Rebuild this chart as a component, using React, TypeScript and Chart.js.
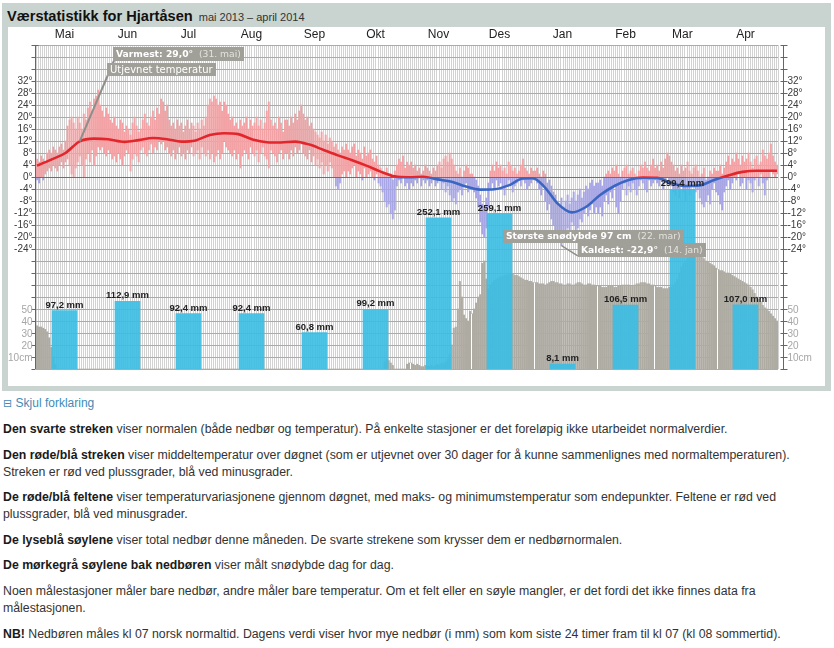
import React, { useEffect, useRef } from "react";
import { Chart, registerables } from "chart.js";
Chart.register(...registerables);

// ---------- data ----------
const monthNames = ["Mai", "Jun", "Jul", "Aug", "Sep", "Okt", "Nov", "Des", "Jan", "Feb", "Mar", "Apr"];
const monthShort = ["mai", "jun", "jul", "aug", "sep", "okt", "nov", "des", "jan", "feb", "mar", "apr"];
const monthStartDay = [0, 31, 61, 92, 123, 153, 184, 214, 245, 276, 304, 335];
const precipMm = [97.2, 112.9, 92.4, 92.4, 60.8, 99.2, 252.1, 259.1, 8.1, 106.5, 299.4, 107.0];
const tempTickLabels = [32, 28, 24, 20, 16, 12, 8, 4, 0, -4, -8, -12, -16, -20, -24];
const snowTickLabels = [50, 40, 30, 20, 10];

const tempMax = [
  // Mai
  6, 5, 7, 6, 5, 8, 9, 8, 10, 9, 8, 10, 11, 9, 12, 17, 19, 20, 18, 16, 20, 18, 16, 21, 19, 23, 25, 22, 26, 27, 29,
  // Jun
  24, 22, 20, 23, 21, 19, 18, 20, 17, 16, 19, 18, 15, 17, 16, 14, 18, 20, 17, 15, 16, 19, 21, 18, 17, 20, 22, 19, 23, 21,
  // Jul
  26, 25, 22, 24, 19, 17, 18, 16, 19, 17, 18, 15, 17, 19, 16, 18, 17, 15, 18, 16, 19, 17, 20, 24, 26, 25, 27, 26, 24, 25, 22,
  // Aug
  25, 24, 21, 19, 20, 17, 18, 16, 19, 17, 18, 20, 16, 19, 17, 18, 20, 17, 19, 16, 18, 22, 25, 19, 17, 18, 16, 20, 18, 15, 19,
  // Sep
  19, 17, 20, 18, 21, 19, 22, 24, 21, 19, 20, 17, 18, 16, 15, 14, 13, 15, 12, 14, 11, 13, 12, 10, 11, 9, 8, 10, 9, 11,
  // Okt
  9, 8, 10, 11, 7, 9, 8, 6, 10, 7, 8, 9, 6, 5, 7, 4, 3, 2, 1, 3, 0, 1, -1, 2, 4, 6, 5, 7, 3, 5, 4,
  // Nov
  5, 3, 4, 2, 3, 1, 2, 4, 3, 2, 1, 3, 2, 4, 5, 3, 6, 7, 5, 8, 6, 4, 2, 1, 3, 0, 2, 4, 3, 1,
  // Des
  1, 0, -1, -3, -6, -9, -11, -7, -2, 2, 4, 2, 5, 3, 4, 2, 3, 1, 5, 4, 2, 3, 1, 2, 4, 6, 3, 2, 1, 3, 2,
  // Jan
  2, 3, 1, 0, 2, 1, -2, -1, -3, -5, -6, -8, -9, -7, -10, -8, -6, -9, -7, -5, -8, -6, -4, -7, -5, -3, -4, -2, -1, -3, -2,
  // Feb
  -2, -1, -3, 0, 1, 2, 1, 3, 2, 4, 1, 0, 2, 3, 4, 1, 2, 3, 1, 0, 2, 4, 3, 5, 3, 2, 4, 6,
  // Mar
  3, 4, 2, 5, 3, 6, 8, 7, 5, 4, 2, 3, 1, 4, 2, 3, 5, 2, 1, 3, 4, 2, 0, 1, 3, -1, 0, 2, 1, 3, 2,
  // Apr
  2, 4, 1, 3, 5, 7, 4, 6, 5, 8, 6, 4, 7, 5, 6, 8, 5, 3, 6, 7, 4, 5, 9, 7, 6, 8, 11, 7, 5, 4,
];

const tempMin = [
  // Mai
  -1, -2, 0, -1, 1, 2, 3, 2, 4, 3, 2, 4, 5, 3, 5, 6, 4, 1, 0, 3, 5, 7, 4, 0, 6, 8, 5, 9, 4, 7, 10,
  // Jun
  9, 10, 8, 7, 9, 8, 6, 7, 5, 8, 6, 4, 7, 9, 8, 2, 6, 8, 7, 5, 9, 10, 8, 7, 9, 11, 8, 10, 9, 12,
  // Jul
  11, 12, 9, 10, 8, 7, 9, 6, 8, 10, 7, 8, 6, 9, 8, 10, 7, 8, 9, 6, 10, 8, 7, 9, 6, 8, 5, 7, 9, 6, 8,
  // Aug
  12, 10, 9, 8, 7, 9, 6, 8, 3, 7, 9, 8, 6, 10, 8, 7, 9, 5, 8, 10, 7, 6, 3, 9, 8, 7, 5, 8, 9, 6, 8,
  // Sep
  8, 6, 9, 7, 10, 8, 9, 11, 8, 7, 6, 9, 5, 7, 4, 6, 3, 5, 1, 4, 2, 5, 3, 0, -3, -4, -2, 1, 2, 0,
  // Okt
  2, 1, 3, 4, 0, 2, 1, -1, 3, 0, 1, 2, 0, -1, 1, -2, -3, -5, -8, -10, -9, -12, -14, -11, -3, -1, -2, 0, -3, -2, -4,
  // Nov
  -2, -3, -1, -2, 0, -3, -1, -2, -1, -3, -2, -1, -3, -2, -1, -4, -2, -5, -3, -6, -8, -7, -9, -5, -4, -6, -3, -2, -5, -4,
  // Des
  -4, -5, -7, -10, -15, -19, -20, -17, -10, -4, -2, -4, -1, -3, -2, -4, -6, -3, -1, -2, -5, -3, -2, -1, -3, -1, -2, -4, -3, -2, -1,
  // Jan
  -1, -2, -4, -6, -3, -8, -11, -9, -14, -16, -18, -20, -19, -22.9, -21, -18, -17, -20, -15, -16, -19, -17, -14, -15, -12, -10, -13, -11, -9, -12, -10,
  // Feb
  -12, -10, -13, -8, -6, -9, -5, -7, -3, -10, -12, -8, -4, -2, -6, -3, -5, -2, -4, -6, -3, -1, -2, -4, -5, -1, -3, -2,
  // Mar
  -1, -2, -3, -1, -4, -2, 0, -1, -3, -5, -6, -4, -7, -3, -5, -8, -4, -6, -3, -2, -5, -4, -7, -9, -10, -8, -6, -9, -4, -2, -5,
  // Apr
  -6, -9, -11, -5, -3, -1, -4, -2, 0, -1, 1, -3, -2, 0, -4, -1, -2, -5, -1, 0, -3, 1, -2, -6, -1, 0, 2, 1, 0, 1,
];

const snowDepthCm = [
  // Mai
  36, 35, 35, 34, 33, 31, 26, 18, 10, 4, 0, 0, 0, 0, 0, 0, 0, 0, 0, 0, 0, 0, 0, 0, 0, 0, 0, 0, 0, 0, 0,
  // Jun
  0, 0, 0, 0, 0, 0, 0, 0, 0, 0, 0, 0, 0, 0, 0, 0, 0, 0, 0, 0, 0, 0, 0, 0, 0, 0, 0, 0, 0, 0,
  // Jul
  0, 0, 0, 0, 0, 0, 0, 0, 0, 0, 0, 0, 0, 0, 0, 0, 0, 0, 0, 0, 0, 0, 0, 0, 0, 0, 0, 0, 0, 0, 0,
  // Aug
  0, 0, 0, 0, 0, 0, 0, 0, 0, 0, 0, 0, 0, 0, 0, 0, 0, 0, 0, 0, 0, 0, 0, 0, 0, 0, 0, 0, 0, 0, 0,
  // Sep
  0, 0, 0, 0, 0, 0, 0, 0, 0, 0, 0, 0, 0, 0, 0, 0, 0, 0, 0, 0, 0, 0, 0, 0, 0, 0, 0, 0, 0, 0,
  // Okt
  0, 0, 0, 0, 0, 0, 0, 0, 0, 0, 0, 0, 0, 0, 0, 0, 0, 0, 6, 8, 7, 5, 3, 0, 0, 0, 0, 0, 0, 4, 5,
  // Nov
  5, 4, 3, 4, 3, 2, 2, 3, 2, 2, 3, 2, 3, 4, 3, 5, 4, 6, 8, 12, 20, 34, 35, 50, 73, 60, 45, 42, 40, 48,
  // Des
  46, 50, 55, 60, 62, 88, 90, 75, 67, 70, 72, 74, 75, 76, 77, 77, 78, 78, 79, 80, 79, 78, 78, 77, 76, 75, 74, 74, 73, 73, 72,
  // Jan
  72, 72, 71, 71, 71, 70, 71, 72, 73, 73, 72, 72, 71, 71, 70, 70, 71, 71, 70, 70, 71, 72, 72, 71, 70, 70, 71, 71, 70, 70, 69,
  // Feb
  69, 69, 68, 68, 68, 69, 69, 69, 68, 68, 69, 69, 70, 70, 70, 70, 69, 69, 70, 71, 71, 72, 72, 72, 71, 71, 70, 70,
  // Mar
  69, 68, 68, 68, 67, 67, 67, 68, 68, 70, 72, 75, 80, 85, 88, 90, 92, 94, 95, 96, 96, 97, 95, 93, 92, 90, 89, 88, 87, 86, 84,
  // Apr
  83, 82, 82, 81, 80, 80, 79, 78, 77, 76, 75, 74, 73, 72, 71, 70, 68, 66, 63, 60, 58, 56, 53, 51, 50, 48, 46, 44, 42, 40,
];

// smoothed ("utjevnet") temperature, read at these days
const smoothDays = [0, 7, 14, 21, 28, 35, 43, 50, 57, 64, 71, 78, 85, 92, 99, 106, 113, 120, 127, 134, 141, 148, 155, 162, 169, 176, 183, 190, 197, 204, 211, 218, 225, 232, 239, 244, 250, 256, 263, 270, 277, 284, 291, 298, 305, 312, 319, 326, 333, 340, 347, 354, 364];
const smoothTemp = [3.8, 5.8, 8, 11.9, 12.8, 12.6, 11.7, 12.3, 13, 12.6, 11.8, 12.2, 14, 14.6, 14.3, 12.5, 11.6, 11.5, 11.8, 10.8, 9, 7.2, 5.6, 3.8, 1.8, 0.2, -0.1, 0.1, -0.8, -1.6, -3.2, -4.2, -4.1, -2.8, -0.5, -0.4, -3.6, -8.8, -11.8, -10, -6, -3, -1, -0.2, -0.3, -2, -3, -2.8, -1, 0.5, 1.7, 2.1, 2.1];

// ---------- helpers ----------
const FONT = '"Liberation Sans", Arial, sans-serif';
const TAGFONT = '"DejaVu Sans", Verdana, sans-serif';
const PRECIP_IDX = 0, LINE_IDX = 1, TEMP_IDX = 2, SNOW_IDX = 3;

function fmtNum(v: number, dec: number) {
  return v.toFixed(dec).replace(".", ",");
}
function dayToDate(d: number) {
  let m = 0;
  for (let i = 0; i < monthStartDay.length; i++) if (monthStartDay[i] <= d) m = i;
  return `${d - monthStartDay[m] + 1}. ${monthShort[m]}`;
}

function splitGradient(chart: any, scaleId: string, top: string, bottom: string) {
  const a = chart.chartArea;
  if (!a) return top;
  const y0 = chart.scales[scaleId].getPixelForValue(0);
  const g = chart.ctx.createLinearGradient(0, a.top, 0, a.bottom);
  const f = Math.min(1, Math.max(0, (y0 - a.top) / (a.bottom - a.top)));
  g.addColorStop(0, top);
  g.addColorStop(f, top);
  g.addColorStop(f, bottom);
  g.addColorStop(1, bottom);
  return g;
}

function drawTag(ctx: any, x: number, y: number, h: number, bold: string, light: string, size: number, boldWeight: boolean) {
  ctx.save();
  ctx.font = `${boldWeight ? "bold " : ""}${size}px ${TAGFONT}`;
  const w1 = ctx.measureText(bold).width;
  ctx.font = `${size}px ${TAGFONT}`;
  const w2 = light ? ctx.measureText("  " + light).width : 0;
  const pad = 3;
  ctx.fillStyle = "#a09f98";
  ctx.fillRect(Math.round(x), Math.round(y), Math.round(w1 + w2 + pad * 2), h);
  ctx.textBaseline = "middle";
  ctx.textAlign = "left";
  ctx.font = `${boldWeight ? "bold " : ""}${size}px ${TAGFONT}`;
  ctx.fillStyle = "#ffffff";
  ctx.fillText(bold, Math.round(x) + pad, Math.round(y) + h / 2 + 0.5);
  if (light) {
    ctx.font = `${size}px ${TAGFONT}`;
    ctx.fillStyle = "#e4e4de";
    ctx.fillText("  " + light, Math.round(x) + pad + w1, Math.round(y) + h / 2 + 0.5);
  }
  ctx.restore();
}

const panelPlugin = {
  id: "yrPanel",
  beforeDatasetsDraw(chart: any) {
    const { ctx, chartArea: a, scales } = chart;
    const xs = scales.x, yT = scales.yT;
    ctx.save();
    ctx.lineWidth = 1;
    ctx.strokeStyle = "#d2d2d2";
    ctx.beginPath();
    for (let d = 0; d <= 365; d++) {
      const px = Math.round(xs.getPixelForValue(d)) + 0.5;
      ctx.moveTo(px, a.top);
      ctx.lineTo(px, a.bottom);
    }
    ctx.stroke();
    ctx.strokeStyle = "#ababab";
    ctx.beginPath();
    for (let t = -64; t <= 44; t += 4) {
      const py = Math.round(yT.getPixelForValue(t)) + 0.5;
      ctx.moveTo(a.left, py);
      ctx.lineTo(a.right, py);
    }
    ctx.stroke();
    ctx.restore();
  },
  afterDatasetDraw(chart: any, args: any) {
    const { ctx, chartArea: a, scales } = chart;
    const xs = scales.x, yT = scales.yT, yS = scales.yS;
    if (args.index === SNOW_IDX) {
      ctx.save();
      ctx.strokeStyle = "#ffffff";
      ctx.lineWidth = 1;
      for (let m = 1; m < monthStartDay.length; m++) {
        const d = monthStartDay[m];
        const s = Math.min(snowDepthCm[d - 1], snowDepthCm[d]);
        if (s <= 0) continue;
        const px = Math.round(xs.getPixelForValue(d)) + 0.5;
        ctx.beginPath();
        ctx.moveTo(px, yS.getPixelForValue(0));
        ctx.lineTo(px, yS.getPixelForValue(s));
        ctx.stroke();
      }
      ctx.restore();
    }
    if (args.index === TEMP_IDX) {
      ctx.save();
      ctx.strokeStyle = "#6e6e6e";
      ctx.lineWidth = 1;
      const p0 = Math.round(yT.getPixelForValue(0)) + 0.5;
      ctx.beginPath();
      ctx.moveTo(a.left, p0);
      ctx.lineTo(a.right, p0);
      ctx.stroke();
      ctx.restore();
    }
  },
  afterDatasetsDraw(chart: any) {
    const { ctx, chartArea: a, scales } = chart;
    const xs = scales.x, yT = scales.yT, yS = scales.yS;
    ctx.save();
    // precipitation labels
    const meta = chart.getDatasetMeta(PRECIP_IDX);
    ctx.font = `bold 9.5px ${FONT}`;
    ctx.fillStyle = "#222";
    ctx.textAlign = "center";
    ctx.textBaseline = "alphabetic";
    meta.data.forEach((el: any, i: number) => {
      ctx.fillText(`${fmtNum(precipMm[i], 1)} mm`, el.x, el.y - 3);
    });

    // annotation leaders
    ctx.strokeStyle = "#8e8e8a";
    ctx.lineWidth = 2;
    ctx.beginPath();
    ctx.moveTo(xs.getPixelForValue(21.5), yT.getPixelForValue(11.9));
    ctx.lineTo(xs.getPixelForValue(38.5), yT.getPixelForValue(39));
    ctx.stroke();
    let minIdx = 0;
    tempMin.forEach((v, i) => { if (v < tempMin[minIdx]) minIdx = i; });
    let maxIdx = 0;
    tempMax.forEach((v, i) => { if (v > tempMax[maxIdx]) maxIdx = i; });
    let snowIdx = 0;
    snowDepthCm.forEach((v, i) => { if (v > snowDepthCm[snowIdx]) snowIdx = i; });
    ctx.lineWidth = 1.5;
    ctx.beginPath();
    ctx.moveTo(xs.getPixelForValue(minIdx + 0.5), yT.getPixelForValue(tempMin[minIdx]));
    ctx.lineTo(xs.getPixelForValue(minIdx + 8.5), yT.getPixelForValue(tempMin[minIdx] - 3.4));
    ctx.stroke();

    drawTag(ctx, xs.getPixelForValue(38), yT.getPixelForValue(43.5), 14,
      `Varmest: ${fmtNum(tempMax[maxIdx], 1)}°`, `(${dayToDate(maxIdx)})`, 9.2, true);
    drawTag(ctx, xs.getPixelForValue(35), yT.getPixelForValue(38), 13,
      "Utjevnet temperatur", "", 10, false);
    drawTag(ctx, xs.getPixelForValue(229.5), yT.getPixelForValue(-17.8), 13,
      `Største snødybde ${snowDepthCm[snowIdx]} cm`, `(${dayToDate(snowIdx)})`, 9.2, true);
    drawTag(ctx, xs.getPixelForValue(266.5), yT.getPixelForValue(-22), 14,
      `Kaldest: ${fmtNum(tempMin[minIdx], 1)}°`, `(${dayToDate(minIdx)})`, 9.2, true);

    // axes
    const lx = Math.round(a.left) - 0.5;
    const rx = Math.round(a.right) + 5.5;
    ctx.strokeStyle = "#666";
    ctx.lineWidth = 1;
    ctx.beginPath();
    ctx.moveTo(lx, a.top);
    ctx.lineTo(lx, a.bottom);
    ctx.moveTo(rx, a.top);
    ctx.lineTo(rx, a.bottom);
    for (let t = -64; t <= 44; t += 4) {
      const py = Math.round(yT.getPixelForValue(t)) + 0.5;
      ctx.moveTo(lx - 4, py);
      ctx.lineTo(t === 44 ? lx + 3 : lx, py);
      ctx.moveTo(rx - 3, py);
      ctx.lineTo(rx + 4, py);
    }
    ctx.stroke();

    // tick labels
    ctx.font = `10px ${FONT}`;
    ctx.textBaseline = "middle";
    ctx.fillStyle = "#3a3a3a";
    tempTickLabels.forEach((t) => {
      const py = yT.getPixelForValue(t) + 0.5;
      ctx.textAlign = "right";
      ctx.fillText(`${t}°`, lx - 3, py);
      ctx.textAlign = "left";
      ctx.fillText(`${t}°`, rx + 4, py);
    });
    ctx.fillStyle = "#a6a6a6";
    snowTickLabels.forEach((s) => {
      const py = yS.getPixelForValue(s) + 1.5;
      const txt = s === 10 ? "10cm" : String(s);
      ctx.textAlign = "right";
      ctx.fillText(txt, lx - 3, py);
      ctx.textAlign = "left";
      ctx.fillText(txt, rx + 4, py);
    });

    // month labels
    ctx.font = `12px ${FONT}`;
    ctx.fillStyle = "#222";
    ctx.textAlign = "center";
    monthNames.forEach((m, i) => {
      ctx.fillText(m, xs.getPixelForValue(monthStartDay[i] + 14), a.top - 10);
    });
    ctx.restore();
  },
};

function WeatherChart() {
  const ref = useRef<HTMLCanvasElement | null>(null);
  useEffect(() => {
    if (!ref.current) return;
    let tempGrad: any = null, lineGrad: any = null, key = "";
    const grads = (chart: any) => {
      const a = chart.chartArea;
      if (!a) return null;
      const k = `${a.top}-${a.bottom}`;
      if (k !== key) {
        key = k;
        tempGrad = splitGradient(chart, "yT", "#f2a2a4", "#a7a5e4");
        lineGrad = splitGradient(chart, "yT", "#e2262c", "#3a66c2");
      }
      return true;
    };
    const chart = new Chart(ref.current, {
      type: "bar",
      data: {
        datasets: [
          {
            type: "bar",
            label: "Nedbør",
            data: precipMm.map((v, i) => ({ x: monthStartDay[i] + 14, y: v })),
            yAxisID: "yP",
            backgroundColor: "rgba(58,190,227,0.9)",
            borderWidth: 0,
            barThickness: 25,
            grouped: false,
            order: 0,
          } as any,
          {
            type: "line",
            label: "Utjevnet temperatur",
            data: smoothDays.map((d, i) => ({ x: d + 0.5, y: smoothTemp[i] })),
            yAxisID: "yT",
            borderColor: (c: any) => (grads(c.chart) ? lineGrad : "#e2262c"),
            borderWidth: 2.6,
            pointRadius: 0,
            cubicInterpolationMode: "monotone",
            fill: false,
            order: 1,
          } as any,
          {
            type: "bar",
            label: "Temperatur",
            data: tempMax.map((mx, i) => ({ x: i + 0.5, y: [tempMin[i], mx] })),
            yAxisID: "yT",
            backgroundColor: (c: any) => (grads(c.chart) ? tempGrad : "#f2a2a4"),
            borderWidth: 0,
            barThickness: 1.25,
            grouped: false,
            order: 2,
          } as any,
          {
            type: "bar",
            label: "Snødybde",
            data: snowDepthCm.map((v, i) => ({ x: i + 0.5, y: v })),
            yAxisID: "yS",
            backgroundColor: "#aeaba2",
            borderWidth: 0,
            barThickness: 1.4,
            grouped: false,
            order: 3,
          } as any,
        ],
      },
      options: {
        responsive: false,
        animation: false,
        events: [],
        layout: { padding: { left: 28, right: 47, top: 18, bottom: 17 } },
        plugins: { legend: { display: false }, tooltip: { enabled: false } },
        scales: {
          x: { type: "linear", min: 0, max: 365, display: false, offset: false },
          yT: { type: "linear", min: -64, max: 44, display: false },
          yS: { type: "linear", min: 0, max: 270, display: false },
          yP: { type: "linear", min: 0, max: 540, display: false },
        },
      } as any,
      plugins: [panelPlugin as any],
    });
    return () => chart.destroy();
  }, []);
  return <canvas ref={ref} width={817} height={359} style={{ display: "block", width: 817, height: 359 }} />;
}

const pStyle: React.CSSProperties = { margin: "0 0 8.6px 0" };
const bStyle: React.CSSProperties = { color: "#1a1a1a" };

export default function App() {
  return (
    <div style={{ position: "absolute", left: 0, top: 0, width: 834, height: 648, background: "#fff", fontFamily: FONT }}>
      <div style={{ position: "absolute", left: 2, top: 3, width: 829, height: 388, background: "#c9d4d0" }}>
        <div style={{ position: "absolute", left: 5, top: 4, whiteSpace: "nowrap", color: "#111", lineHeight: "17px" }}>
          <span style={{ fontSize: 14.6, fontWeight: "bold" }}>Værstatistikk for Hjartåsen</span>
          <span style={{ fontSize: 11, marginLeft: 6, color: "#333" }}>mai 2013 – april 2014</span>
        </div>
        <div style={{ position: "absolute", left: 6, top: 24, width: 817, height: 359, background: "#fff" }}>
          <WeatherChart />
        </div>
      </div>
      <div style={{ position: "absolute", left: 3, top: 395, width: 812, fontSize: 12.3, lineHeight: "17px", color: "#333" }}>
        <div style={{ color: "#3f8bb6", marginBottom: 9, fontSize: 12 }}>
          <span style={{ fontFamily: '"DejaVu Sans", sans-serif', fontSize: 11 }}>⊟</span> Skjul forklaring
        </div>
        <p style={pStyle}><b style={bStyle}>Den svarte streken</b> viser normalen (både nedbør og temperatur). På enkelte stasjoner er det foreløpig ikke utarbeidet normalverdier.</p>
        <p style={pStyle}><b style={bStyle}>Den røde/blå streken</b> viser middeltemperatur over døgnet (som er utjevnet over 30 dager for å kunne sammenlignes med normaltemperaturen). Streken er rød ved plussgrader, blå ved minusgrader.</p>
        <p style={pStyle}><b style={bStyle}>De røde/blå feltene</b> viser temperaturvariasjonene gjennom døgnet, med maks- og minimumstemperatur som endepunkter. Feltene er rød ved plussgrader, blå ved minusgrader.</p>
        <p style={pStyle}><b style={bStyle}>De lyseblå søylene</b> viser total nedbør denne måneden. De svarte strekene som krysser dem er nedbørnormalen.</p>
        <p style={pStyle}><b style={bStyle}>De mørkegrå søylene bak nedbøren</b> viser målt snødybde dag for dag.</p>
        <p style={pStyle}>Noen målestasjoner måler bare nedbør, andre måler bare temperatur. Om et felt eller en søyle mangler, er det fordi det ikke finnes data fra målestasjonen.</p>
        <p style={pStyle}><b style={bStyle}>NB!</b> Nedbøren måles kl 07 norsk normaltid. Dagens verdi viser hvor mye nedbør (i mm) som kom siste 24 timer fram til kl 07 (kl 08 sommertid).</p>
      </div>
    </div>
  );
}
